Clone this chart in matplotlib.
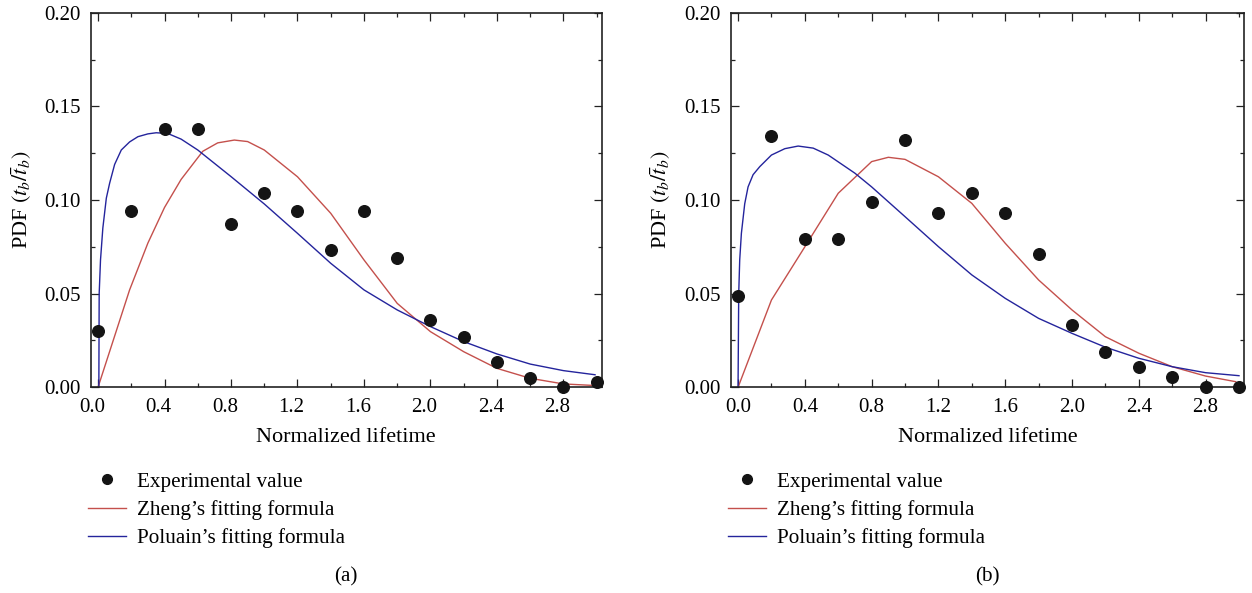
import matplotlib
matplotlib.use("Agg")
import matplotlib.pyplot as plt
import matplotlib.transforms as mtransforms
from matplotlib.lines import Line2D
from matplotlib.ticker import MultipleLocator, FormatStrFormatter

plt.rcParams["font.family"] = ["Liberation Serif", "DejaVu Serif"]
plt.rcParams["mathtext.fontset"] = "stix"

# experimental points (normalized lifetime, PDF)
exp_x = [0.0, 0.2, 0.4, 0.6, 0.8, 1.0, 1.2, 1.4, 1.6, 1.8, 2.0, 2.2, 2.4, 2.6, 2.8, 3.0]
exp_a = [0.030, 0.094, 0.138, 0.138, 0.087, 0.104, 0.094, 0.0735, 0.094, 0.069,
         0.036, 0.027, 0.0135, 0.0051, 0.0, 0.0027]
exp_b = [0.049, 0.134, 0.079, 0.079, 0.099, 0.132, 0.093, 0.104, 0.093, 0.071,
         0.033, 0.019, 0.011, 0.0055, 0.0, 0.0]

# Zheng's fitting formula
zheng_x_a = [0.0, 0.19, 0.3, 0.4, 0.5, 0.63, 0.72, 0.82, 0.9, 1.0, 1.2, 1.4, 1.6,
             1.8, 2.0, 2.2, 2.4, 2.6, 2.8, 3.0]
zheng_a = [0.0, 0.052, 0.077, 0.096, 0.111, 0.126, 0.1305, 0.132, 0.1312, 0.1267,
           0.1124, 0.0929, 0.068, 0.0448, 0.0297, 0.019, 0.0101, 0.0048, 0.0018, 0.0009]
zheng_x_b = [0.0, 0.2, 0.4, 0.6, 0.8, 0.9, 1.0, 1.2, 1.4, 1.6, 1.8, 2.0, 2.2, 2.4,
             2.6, 2.8, 2.98]
zheng_b = [0.0, 0.0466, 0.075, 0.1036, 0.1205, 0.1228, 0.1217, 0.1124, 0.0982, 0.0769,
           0.0573, 0.0413, 0.027, 0.0182, 0.011, 0.006, 0.003]

# Poluain's fitting formula
pol_x_a = [0.005, 0.007, 0.015, 0.029, 0.05, 0.07, 0.1, 0.14, 0.19, 0.24, 0.3, 0.35,
           0.42, 0.5, 0.6, 0.8, 1.0, 1.2, 1.4, 1.6, 1.8, 2.0, 2.2, 2.4, 2.6, 2.8, 2.99]
pol_a = [0.0, 0.05, 0.068, 0.085, 0.101, 0.109, 0.119, 0.1267, 0.131, 0.1338, 0.1353,
         0.1359, 0.1355, 0.1325, 0.1267, 0.1125, 0.0979, 0.0822, 0.0662, 0.052, 0.0413,
         0.0324, 0.0244, 0.0178, 0.0124, 0.0089, 0.0067]
pol_x_b = [0.0, 0.004, 0.01, 0.02, 0.04, 0.06, 0.09, 0.13, 0.2, 0.28, 0.36, 0.45,
           0.54, 0.7, 0.8, 1.0, 1.2, 1.4, 1.6, 1.8, 2.0, 2.2, 2.4, 2.6, 2.8, 3.0]
pol_b = [0.0, 0.05, 0.068, 0.0822, 0.098, 0.107, 0.1135, 0.1178, 0.124, 0.1274, 0.1288,
         0.1277, 0.124, 0.1143, 0.107, 0.0911, 0.0751, 0.06, 0.0475, 0.0368, 0.0288,
         0.0214, 0.0155, 0.011, 0.0078, 0.0062]

red = "#c4504c"
blue = "#24249c"
tick_fs = 15
label_fs = 16
leg_fs = 15.2

fig = plt.figure(figsize=(12.52, 5.93), dpi=100)
W, H = 1252, 593
panels = [
    ("(a)", 90.7, 601.7, exp_a, zheng_x_a, zheng_a, pol_x_a, pol_a, -6),
    ("(b)", 730.7, 1244, exp_b, zheng_x_b, zheng_b, pol_x_b, pol_b, 0),
]
for tag, x0, x1, ey, zx, zy, px, py, shift in panels:
    ax = fig.add_axes([x0 / W, 1 - 387.3 / H, (x1 - x0) / W, 374.6 / H])
    ax.plot(zx, zy, color=red, lw=1.0)
    ax.plot(px, py, color=blue, lw=1.0)
    ax.scatter(exp_x, ey, s=70, color="#141414", zorder=3, clip_on=False)
    ax.set_xlim(-0.044, 3.03)
    ax.set_ylim(0, 0.2)
    ax.xaxis.set_major_locator(MultipleLocator(0.4))
    ax.xaxis.set_minor_locator(MultipleLocator(0.2))
    ax.yaxis.set_major_locator(MultipleLocator(0.05))
    ax.yaxis.set_minor_locator(MultipleLocator(0.025))
    ax.xaxis.set_major_formatter(FormatStrFormatter("%.1f"))
    ax.yaxis.set_major_formatter(FormatStrFormatter("%.2f"))
    ax.tick_params(which="both", direction="in", top=True, right=True,
                   labelsize=tick_fs, width=0.9, color="#222222")
    ax.tick_params(which="major", length=6)
    ax.tick_params(which="minor", length=3)
    ax.tick_params(axis="x", pad=8)
    ax.tick_params(axis="y", pad=7)
    for sp in ax.spines.values():
        sp.set_linewidth(1.2)
        sp.set_color("#222222")
    if shift:
        off = mtransforms.ScaledTranslation(shift / 100, 0, fig.dpi_scale_trans)
        for lab in ax.get_xticklabels():
            lab.set_transform(lab.get_transform() + off)
    ax.set_xlabel("Normalized lifetime", fontsize=label_fs, va="center")
    ax.xaxis.set_label_coords(0.5, -0.1327)
    ax.set_ylabel(r"PDF $(t_b/\bar{t}_b)$", fontsize=label_fs, va="center")
    ax.yaxis.set_label_coords(-0.136, 0.5)

    handles = [
        Line2D([], [], ls="none", marker="o", ms=7, color="#141414"),
        Line2D([], [], color=red, lw=1.0),
        Line2D([], [], color=blue, lw=1.0),
    ]
    labels = ["Experimental value", "Zheng\u2019s fitting formula", "Poluain\u2019s fitting formula"]
    fig.legend(handles, labels, loc="upper left",
               bbox_to_anchor=((x0 - 3) / W, 1 - 472 / H),
               frameon=False, fontsize=leg_fs, borderpad=0, borderaxespad=0,
               handlelength=1.8, handletextpad=0.55, labelspacing=0.39)
    fig.text((x0 + x1) / 2 / W, 1 - 577 / H, tag, ha="center", va="center", fontsize=leg_fs)

fig.savefig("out.png", dpi=100)
